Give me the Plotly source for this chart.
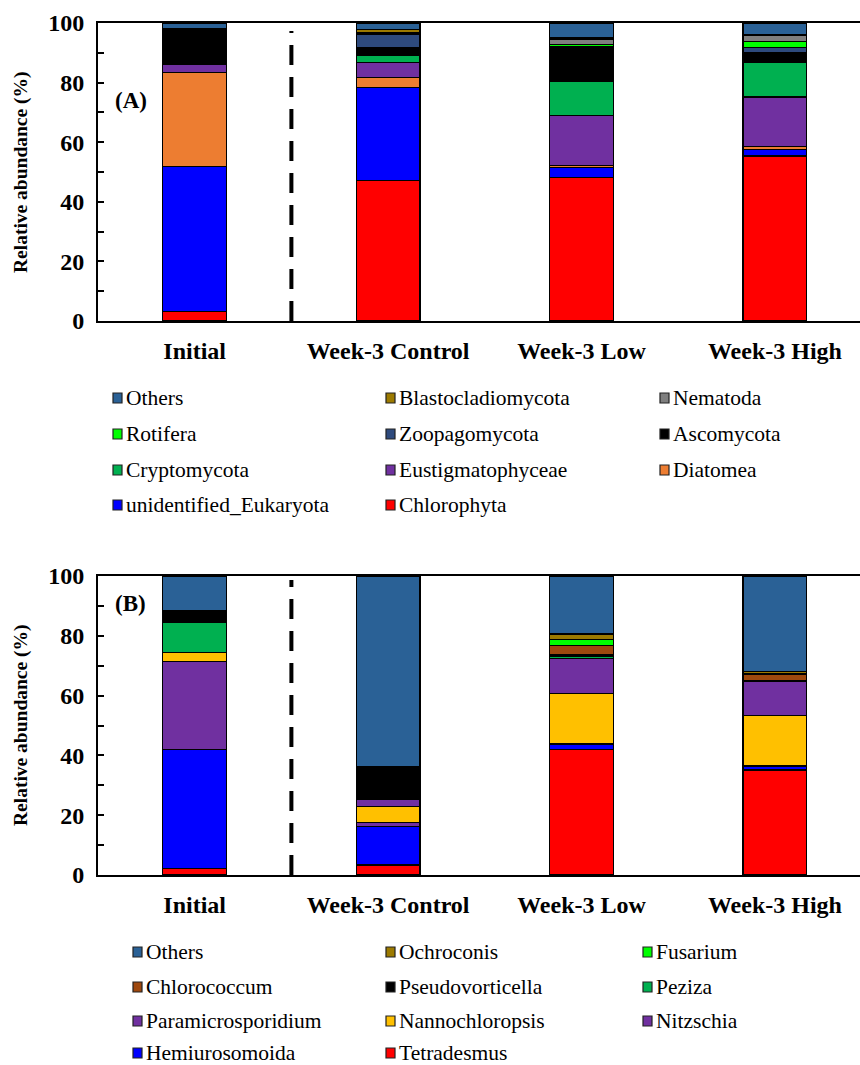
import plotly.graph_objects as go

# ---------------- data ----------------
samples = ["Initial", "Week-3 Control", "Week-3 Low", "Week-3 High"]

# (A) eukaryotic phyla, bottom-to-top stacking order
phyla_names = [
    "Chlorophyta", "unidentified_Eukaryota", "Diatomea", "Eustigmatophyceae",
    "Cryptomycota", "Ascomycota", "Zoopagomycota", "Rotifera", "Nematoda",
    "Blastocladiomycota", "Others",
]
chlorophyta = [3.1, 47.1, 48.2, 55.4]
unidentified_eukaryota = [48.7, 31.3, 3.4, 2.2]
diatomea = [31.5, 3.4, 0.5, 1.0]
eustigmatophyceae = [2.8, 5.0, 16.8, 16.6]
cryptomycota = [0.0, 2.5, 11.5, 11.5]
ascomycota = [11.9, 2.5, 11.2, 3.4]
zoopagomycota = [0.0, 4.4, 0.5, 1.6]
rotifera = [0.0, 0.1, 0.8, 2.1]
nematoda = [0.0, 0.5, 1.5, 1.9]
blastocladiomycota = [0.0, 1.0, 0.6, 0.5]
others_a = [2.0, 2.2, 5.0, 3.8]

# (B) genera, bottom-to-top stacking order
genus_names = [
    "Tetradesmus", "Hemiurosomoida", "Nitzschia", "Nannochloropsis",
    "Paramicrosporidium", "Peziza", "Pseudovorticella", "Chlorococcum",
    "Fusarium", "Ochroconis", "Others",
]
tetradesmus = [2.2, 3.3, 42.0, 35.1]
hemiurosomoida = [39.8, 12.9, 1.8, 1.4]
nitzschia = [29.5, 1.4, 0.0, 0.0]
nannochloropsis = [3.0, 5.2, 17.0, 16.9]
paramicrosporidium = [0.0, 2.5, 11.7, 11.3]
peziza = [10.1, 0.0, 0.5, 0.0]
pseudovorticella = [3.9, 10.5, 0.6, 0.3]
chlorococcum = [0.0, 0.6, 3.1, 2.0]
fusarium = [0.0, 0.0, 2.1, 0.2]
ochroconis = [0.0, 0.0, 1.8, 0.8]
others_b = [11.5, 63.6, 19.4, 32.0]

y_ticks = [0, 20, 40, 60, 80, 100]

# ---------------- styling ----------------
phyla_values = [chlorophyta, unidentified_eukaryota, diatomea, eustigmatophyceae,
                cryptomycota, ascomycota, zoopagomycota, rotifera, nematoda,
                blastocladiomycota, others_a]
phyla_colors = ["#FF0000", "#0000FF", "#ED7D31", "#7030A0", "#00B050", "#000000",
                "#2E4A7D", "#00FF00", "#7F7F7F", "#9C7A00", "#2A6196"]

genus_values = [tetradesmus, hemiurosomoida, nitzschia, nannochloropsis,
                paramicrosporidium, peziza, pseudovorticella, chlorococcum,
                fusarium, ochroconis, others_b]
genus_colors = ["#FF0000", "#0000FF", "#7030A0", "#FFC000", "#7030A0", "#00B050",
                "#000000", "#9E480E", "#00FF00", "#9C7A00", "#2A6196"]

W, H = 860, 1065
SERIF = '"Liberation Serif", "Times New Roman", Times, serif'


def fx(p):
    return p / W


def fy(p):
    return 1 - p / H


x_pos = list(range(len(samples)))
fig = go.Figure()


def add_stack(names, values, colors, xa, ya):
    for name, vals, col in zip(names, values, colors):
        fig.add_trace(go.Bar(
            x=x_pos, y=[v if v > 0 else None for v in vals], name=name,
            marker=dict(color=col, line=dict(color="#000000", width=1.3)),
            width=0.33, xaxis=xa, yaxis=ya, showlegend=False,
        ))


add_stack(phyla_names, phyla_values, phyla_colors, "x", "y")
add_stack(genus_names, genus_values, genus_colors, "x2", "y2")

xaxis_common = dict(
    range=[-0.5, 3.44], tickvals=x_pos, ticktext=samples, ticks="",
    showline=True, linecolor="#000000", linewidth=2, mirror=True,
    showgrid=False, zeroline=False, ticklabelstandoff=7, automargin=False,
    tickfont=dict(family=SERIF, size=24, color="#000000", weight="bold"),
)
yaxis_common = dict(
    range=[0, 100], tickvals=y_ticks, ticks="inside", ticklen=6, tickwidth=1.5,
    tickcolor="#000000", showline=True, linecolor="#000000", linewidth=2,
    showgrid=False, zeroline=False, ticklabelstandoff=7, automargin=False,
    minor=dict(tickvals=[10, 30, 50, 70, 90], ticks="inside", ticklen=6,
               tickwidth=1.5, tickcolor="#000000"),
    tickfont=dict(family=SERIF, size=24, color="#000000", weight="bold"),
)

fig.update_layout(
    template="none",
    font=dict(family=SERIF, color="#000000"),
    width=W, height=H, barmode="stack", showlegend=False,
    margin=dict(l=0, r=0, t=0, b=0, pad=0, autoexpand=False),
    paper_bgcolor="#FFFFFF", plot_bgcolor="#FFFFFF",
    xaxis=dict(domain=[fx(98), 1.0], anchor="y", **xaxis_common),
    yaxis=dict(domain=[fy(321), fy(23)], anchor="x", **yaxis_common),
    xaxis2=dict(domain=[fx(98), 1.0], anchor="y2", **xaxis_common),
    yaxis2=dict(domain=[fy(875), fy(576)], anchor="x2", **yaxis_common),
)

# dashed separators between the initial sample and the week-3 samples
for xa, ya, top in [("x", "y", 97.3), ("x2", "y2", 98.7)]:
    fig.add_shape(type="line", xref=xa, yref=ya, x0=0.5, x1=0.5, y0=0, y1=top,
                  line=dict(color="#000000", width=4, dash="20px,12px"))

annotations = []
# y-axis titles and panel labels
for yc, tag, ty in [(172, "(A)", 100), (725, "(B)", 603)]:
    annotations.append(dict(
        text="Relative abundance (%)", xref="paper", yref="paper",
        x=fx(21), y=fy(yc), textangle=-90, showarrow=False,
        xanchor="center", yanchor="middle",
        font=dict(family=SERIF, size=19.5, color="#000000", weight="bold")))
    annotations.append(dict(
        text=tag, xref="paper", yref="paper", x=fx(113), y=fy(ty),
        showarrow=False, xanchor="left", yanchor="middle",
        font=dict(family=SERIF, size=23, color="#000000", weight="bold")))

fig.update_layout(annotations=annotations)


# legends: three columns, entries listed from the top of the stack down
def draw_legend(names, colors, col_x, row_y):
    items = list(zip(names, colors))[::-1]
    for i, (name, col) in enumerate(items):
        cx = col_x[i % 3]
        cy = row_y[i // 3]
        fig.add_shape(type="rect", xref="paper", yref="paper",
                      x0=fx(cx), x1=fx(cx + 9), y0=fy(cy + 5), y1=fy(cy - 5),
                      fillcolor=col, line=dict(color="#222222", width=1.2))
        fig.add_annotation(text=name, xref="paper", yref="paper",
                           x=fx(cx + 11), y=fy(cy), showarrow=False,
                           xanchor="left", yanchor="middle",
                           font=dict(family=SERIF, size=21.5, color="#000000"))


draw_legend(phyla_names, phyla_colors, [113, 386, 660], [398, 434, 470, 505])
draw_legend(genus_names, genus_colors, [133, 386, 643], [952, 987, 1021, 1053])

fig.write_html("out.html")
